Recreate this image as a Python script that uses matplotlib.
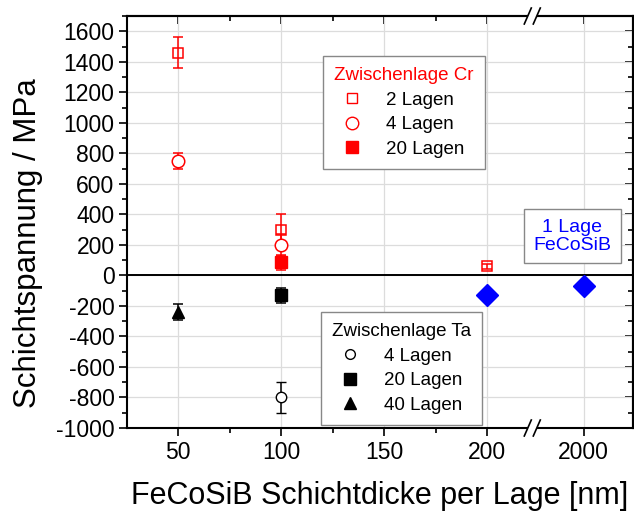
import matplotlib.pyplot as plt
from matplotlib.lines import Line2D
from matplotlib.patches import Polygon
import numpy as np

plt.rcParams['font.family'] = ['Liberation Sans', 'DejaVu Sans']
plt.rcParams['axes.unicode_minus'] = False

# broken x axis: everything above 200 nm sits behind the gap
x_break = 222
x_after = 247


def xpos(v):
    v = np.asarray(v, dtype=float)
    return np.where(v > 200, x_after, v)


# Zwischenlage Cr
cr2_x = [50, 100, 200]
cr2_y = [1460, 300, 60]
cr2_err = [100, 100, 18]
cr4_x = [50, 100]
cr4_y = [750, 200]
cr4_err = [50, 70]
cr20_x = [100]
cr20_y = [85]
cr20_err = [50]

# Zwischenlage Ta
ta4_x = [100]
ta4_y = [-800]
ta4_err = [100]
ta20_x = [100]
ta20_y = [-130]
ta20_err = [50]
ta40_x = [50]
ta40_y = [-240]
ta40_err = [50]

# 1 Lage FeCoSiB
single_x = [200, 2000]
single_y = [-130, -70]

x_ticks = [50, 100, 150, 200, 2000]
x_minor = [75, 125, 175]

fig = plt.figure(figsize=(6.34, 5.11), dpi=100)
ax = fig.add_axes([127/634, 83/511, 506/634, 412/511])

ax.set_xlim(25.2, 270.9)
ax.set_ylim(-1000, 1700)
ax.grid(True, which='major', color='#dcdcdc', lw=0.9)
ax.set_axisbelow(True)
ax.axhline(0, color='k', lw=1.4, zorder=1)

ebk = dict(ls='none', capsize=3.5, elinewidth=1.1, capthick=1.1, zorder=3)
ax.errorbar(xpos(cr2_x), cr2_y, yerr=cr2_err, marker='s', ms=7.5, mfc='none',
            mec='red', mew=1.1, color='red', **ebk)
ax.errorbar(xpos(cr4_x), cr4_y, yerr=cr4_err, marker='o', ms=9, mfc='white',
            mec='red', mew=1.1, color='red', **ebk)
ax.errorbar(xpos(cr20_x), cr20_y, yerr=cr20_err, marker='s', ms=8.5, mfc='red',
            mec='red', color='red', **ebk)
ax.errorbar(xpos(ta4_x), ta4_y, yerr=ta4_err, marker='o', ms=7.5, mfc='white',
            mec='k', mew=1.0, color='k', **ebk)
ax.errorbar(xpos(ta20_x), ta20_y, yerr=ta20_err, marker='s', ms=8.5, mfc='k',
            mec='k', color='k', **ebk)
ax.errorbar(xpos(ta40_x), ta40_y, yerr=ta40_err, marker='^', ms=8.5, mfc='k',
            mec='k', color='k', **ebk)
ax.plot(xpos(single_x), single_y, ls='none', marker='D', ms=11, color='blue',
        zorder=3)

# ticks
ax.set_xticks(xpos(x_ticks))
ax.set_xticklabels([str(t) for t in x_ticks])
ax.set_xticks(x_minor, minor=True)
ax.set_yticks(np.arange(-1000, 1601, 200))
ax.set_yticks(np.arange(-1000, 1701, 100), minor=True)
ax.tick_params(which='major', direction='out', length=6, width=1.2,
               labelsize=16.5, pad=3)
ax.tick_params(which='minor', direction='out', length=3.5, width=1.2)
for s in ax.spines.values():
    s.set_linewidth(1.5)

top = ax.secondary_xaxis('top')
top.set_xticks(xpos(x_ticks))
top.set_xticks(x_minor, minor=True)
top.tick_params(which='major', direction='in', length=6, width=1.2, labeltop=False)
top.tick_params(which='minor', direction='in', length=3.5, width=1.2)
right = ax.secondary_yaxis('right')
right.set_yticks(np.arange(-1000, 1601, 200))
right.set_yticks(np.arange(-1000, 1701, 100), minor=True)
right.tick_params(which='major', direction='in', length=6, width=1.2, labelright=False)
right.tick_params(which='minor', direction='in', length=3.5, width=1.2)
for s in list(top.spines.values()) + list(right.spines.values()):
    s.set_linewidth(1.5)

ax.set_xlabel('FeCoSiB Schichtdicke per Lage [nm]', fontsize=22)
ax.xaxis.set_label_coords(0.5, -0.128)
ax.set_ylabel('Schichtspannung / MPa', fontsize=22.5)
ax.yaxis.set_label_coords(-0.166, 0.449)

# axis break marks
bx = (x_break - 25.2) / (270.9 - 25.2)
dx, dy, gap = 7/506, 16/412, 9/506
for yb in (0, 1):
    poly = Polygon([(bx - gap/2 - dx/2, yb - dy/2), (bx + gap/2 - dx/2, yb - dy/2),
                    (bx + gap/2 + dx/2, yb + dy/2), (bx - gap/2 + dx/2, yb + dy/2)],
                   closed=True, transform=ax.transAxes, fc='white', ec='none',
                   clip_on=False, zorder=5)
    ax.add_patch(poly)
    for sx in (-gap/2, gap/2):
        ax.plot([bx + sx - dx/2, bx + sx + dx/2], [yb - dy/2, yb + dy/2],
                color='k', lw=1.2, transform=ax.transAxes, clip_on=False, zorder=6)

# legends
leg_kw = dict(loc='upper left', fontsize=13.5, title_fontsize=13.5, frameon=True,
              fancybox=False, edgecolor='#888888', framealpha=1,
              handlelength=1.0, handletextpad=1.3, labelspacing=0.4,
              borderpad=0.6, borderaxespad=0)
cr_handles = [
    Line2D([], [], ls='none', marker='s', ms=7.5, mfc='none', mec='red'),
    Line2D([], [], ls='none', marker='o', ms=9, mfc='none', mec='red'),
    Line2D([], [], ls='none', marker='s', ms=8.5, mfc='red', mec='red'),
]
leg1 = ax.legend(cr_handles, ['2 Lagen', '4 Lagen', '20 Lagen'],
                 title='Zwischenlage Cr', bbox_to_anchor=(0.387, 0.9036), **leg_kw)
leg1.get_title().set_color('red')
leg1.get_frame().set_linewidth(1.0)
ax.add_artist(leg1)

ta_handles = [
    Line2D([], [], ls='none', marker='o', ms=7, mfc='white', mec='k'),
    Line2D([], [], ls='none', marker='s', ms=8.5, mfc='k', mec='k'),
    Line2D([], [], ls='none', marker='^', ms=8.5, mfc='k', mec='k'),
]
leg2 = ax.legend(ta_handles, ['4 Lagen', '20 Lagen', '40 Lagen'],
                 title='Zwischenlage Ta', bbox_to_anchor=(0.383, 0.282), **leg_kw)
leg2.get_frame().set_linewidth(1.0)

ax.text(241.5, 256, '1 Lage\nFeCoSiB', color='blue', fontsize=14, ha='center',
        va='center', ma='center', linespacing=1.05,
        bbox=dict(boxstyle='square,pad=0.5', fc='white', ec='#888888', lw=1.0),
        zorder=4)

fig.savefig('out.png', dpi=100)
